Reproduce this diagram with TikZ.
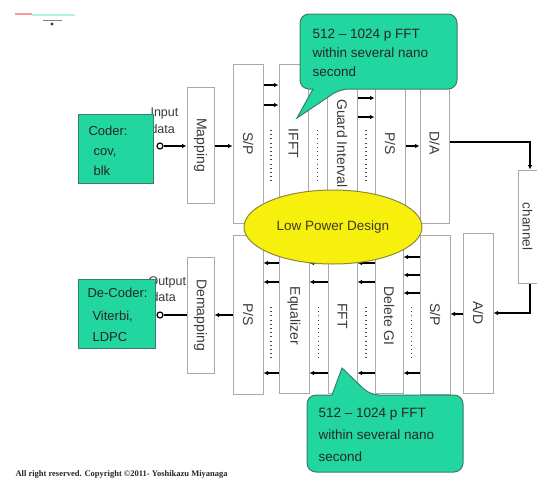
\documentclass[tikz,border=0pt]{standalone}
\usepackage{fontspec}
\setmainfont{Liberation Sans}
\newfontfamily\cfont{Liberation Serif}
\usetikzlibrary{arrows.meta,shapes.geometric}
\definecolor{boxgray}{HTML}{A9A9A9}
\definecolor{labgray}{HTML}{3A3A3A}
\definecolor{tealfill}{HTML}{22D6A0}
\definecolor{tealedge}{HTML}{3B7D6B}
\definecolor{ylw}{HTML}{F7F00C}
\definecolor{ylwedge}{HTML}{8C8A3C}
\tikzset{
  blk/.style={draw=boxgray, line width=1pt, fill=white, inner sep=0pt, text=labgray,
    font=\fontsize{14}{16}\selectfont},
  arr/.style={line width=1.4pt, -{Latex[length=4.5pt,width=4.5pt]}},
  plainline/.style={line width=1.4pt},
  dotcol/.style={line width=1.3pt, dash pattern=on 1pt off 3.2pt, draw=black!70},
  tealbox/.style={draw=tealedge, line width=1pt, fill=tealfill},
  tealtxt/.style={anchor=base west, text=black!85, font=\fontsize{13}{15}\selectfont},
  calltxt/.style={anchor=base west, text=black!85, font=\fontsize{13.5}{15}\selectfont},
  iotxt/.style={anchor=base west, text=labgray, font=\fontsize{12.5}{14}\selectfont},
  term/.style={circle, draw=black, line width=1.2pt, fill=white, inner sep=0pt, minimum size=6pt}
}
\newcommand{\vlab}[1]{\rotatebox{-90}{#1}}
\begin{document}
\begin{tikzpicture}[x=1pt,y=-1pt]
\useasboundingbox (0,0) rectangle (537,479);
\fill[white] (0,0) rectangle (537,479);

% top-left smudge
\draw[line width=1.4pt, pink!80!red] (15,14) -- (32,14);
\draw[line width=1.4pt, tealfill!35] (32,15) -- (75,15);
\draw[line width=1pt, gray] (43,20) -- (62,20);
\fill[black!80] (52,24) circle (1.6);

% IO labels (behind coder boxes)
\node[iotxt] (inT1) at (147,116) {Input};
\node[iotxt] (inT2) at (147,133) {data};
\node[iotxt] (outT1) at (145,285) {Output};
\node[iotxt] (outT2) at (148,301) {data};

% coder boxes
\node[tealbox, minimum width=75pt, minimum height=69pt] (coder) at (115.5,148.5) {};
\node[tealtxt] (c1) at (85,135) {Coder:};
\node[tealtxt] (c2) at (90,155.5) {cov,};
\node[tealtxt] (c3) at (90,175) {blk};
\node[tealbox, minimum width=77pt, minimum height=69pt] (decoder) at (116.5,313.5) {};
\node[tealtxt] (d1) at (84,297) {De-Coder:};
\node[tealtxt] (d2) at (89,320.5) {Viterbi,};
\node[tealtxt] (d3) at (89,341.5) {LDPC};

% top row
\node[blk, minimum width=27pt, minimum height=116pt] (map) at (200.5,145) {\vlab{Mapping}};
\node[blk, minimum width=30pt, minimum height=159pt] (sp1) at (248,143.5) {\vlab{S/P}};
\node[blk, minimum width=29pt, minimum height=159pt] (ifft) at (293.5,143.5) {\vlab{IFFT}};
\node[blk, minimum width=30pt, minimum height=159pt] (gi) at (342,143.5) {\vlab{Guard Interval}};
\node[blk, minimum width=30pt, minimum height=159pt] (ps1) at (390,143.5) {\vlab{P/S}};
\node[blk, minimum width=29pt, minimum height=159pt] (da) at (434.5,143.5) {\vlab{D/A}};

% bottom row
\node[blk, minimum width=27pt, minimum height=116pt] (dmap) at (200.5,315) {\vlab{Demapping}};
\node[blk, minimum width=30pt, minimum height=159pt] (ps2) at (248,314.5) {\vlab{P/S}};
\node[blk, minimum width=30pt, minimum height=155pt] (eq) at (294,316) {\vlab{Equalizer}};
\node[blk, minimum width=29pt, minimum height=155pt] (fft) at (342.5,316) {\vlab{FFT}};
\node[blk, minimum width=28pt, minimum height=155pt] (dgi) at (389,316) {\vlab{Delete GI}};
\node[blk, minimum width=30pt, minimum height=159pt] (sp2) at (435,314.5) {\vlab{S/P}};
\node[blk, minimum width=30pt, minimum height=160pt] (ad) at (478,313) {\vlab{A/D}};
\node[blk, minimum width=30pt, minimum height=113pt] (chan) at (533,226.5) {};
\node[text=labgray, inner sep=0pt, font=\fontsize{13.5}{15}\selectfont] (chanlab) at (527.5,226.5) {\vlab{channel}};

% terminals
\node[term] (inc) at (160,146) {};
\node[term] (outc) at (160,315) {};

% top flow
\draw[arr] (inc.east) -- (map.west |- inc.east);
\draw[arr] (map.east |- 0,146) -- (sp1.west |- 0,146);
\draw[arr] (sp1.east |- 0,85) -- (ifft.west |- 0,85);
\draw[arr] (sp1.east |- 0,105) -- (ifft.west |- 0,105);
\draw[arr] (gi.east |- 0,98) -- (ps1.west |- 0,98);
\draw[arr] (gi.east |- 0,117) -- (ps1.west |- 0,117);
\draw[arr] (ps1.east |- 0,146) -- (da.west |- 0,146);
\draw[arr, line width=1.8pt] (da.east |- 0,142) -- (530,142) -- (chan.north -| 530,0);
\draw[arr, line width=1.8pt] (chan.south -| 530,0) -- (530,313) -- (ad.east |- 0,313);

% bottom flow
\draw[arr] (ad.west |- 0,314) -- (sp2.east |- 0,314);
\foreach \yy in {257,275,293,373}{
  \draw[arr] (sp2.west |- 0,\yy) -- (dgi.east |- 0,\yy);}
\foreach \yy in {263,282,373}{
  \draw[arr] (dgi.west |- 0,\yy) -- (fft.east |- 0,\yy);
  \draw[arr] (fft.west |- 0,\yy) -- (eq.east |- 0,\yy);
  \draw[arr] (eq.west |- 0,\yy) -- (ps2.east |- 0,\yy);}
\draw[arr] (ps2.west |- 0,315) -- (dmap.east |- 0,315);
\draw[plainline] (dmap.west |- 0,315) -- (outc.east);

% dotted columns
\draw[dotcol] (271,130) -- (271,182);
\draw[dotcol] (317.5,130) -- (317.5,184);
\draw[dotcol] (366,130) -- (366,182);
\draw[dotcol] (271,307) -- (271,358);
\draw[dotcol] (318.5,307) -- (318.5,358);
\draw[dotcol] (366,307) -- (366,358);
\draw[dotcol] (411.5,307) -- (411.5,358);

% ellipse
\node[ellipse, draw=ylwedge, line width=1pt, fill=ylw, minimum width=178pt, minimum height=74pt,
  text=black!75!olive, font=\fontsize{13.5}{15}\selectfont] (lpd) at (333,227) {Low Power Design};

% callouts
\draw[draw=tealedge, line width=1pt, fill=tealfill]
  (300,50) [rounded corners=9pt] -- (300,14) -- (457,14) -- (457,89) -- (340,89)
  [sharp corners] -- (297,118) -- (313,89) [rounded corners=9pt] -- (300,89) -- cycle;
\node[calltxt] (ct1) at (309,38) {512 – 1024 p FFT};
\node[calltxt] (ct2) at (309,57.5) {within several nano};
\node[calltxt] (ct3) at (309,76.5) {second};

\draw[draw=tealedge, line width=1pt, fill=tealfill]
  (307,430) [rounded corners=9pt] -- (307,472) -- (463,472) -- (463,395) -- (370,395)
  [sharp corners] -- (342,368) -- (332,395) [rounded corners=9pt] -- (307,395) -- cycle;
\node[calltxt] (cb1) at (315,417.5) {512 – 1024 p FFT};
\node[calltxt] (cb2) at (315,439.5) {within several nano};
\node[calltxt] (cb3) at (315,461.5) {second};

% copyright
\node[anchor=base west, text=black!85, font=\cfont\bfseries\fontsize{8.5}{9}\selectfont] (copy) at (12,476.5)
  {All right reserved. Copyright ©2011- Yoshikazu Miyanaga};
\end{tikzpicture}
\end{document}
